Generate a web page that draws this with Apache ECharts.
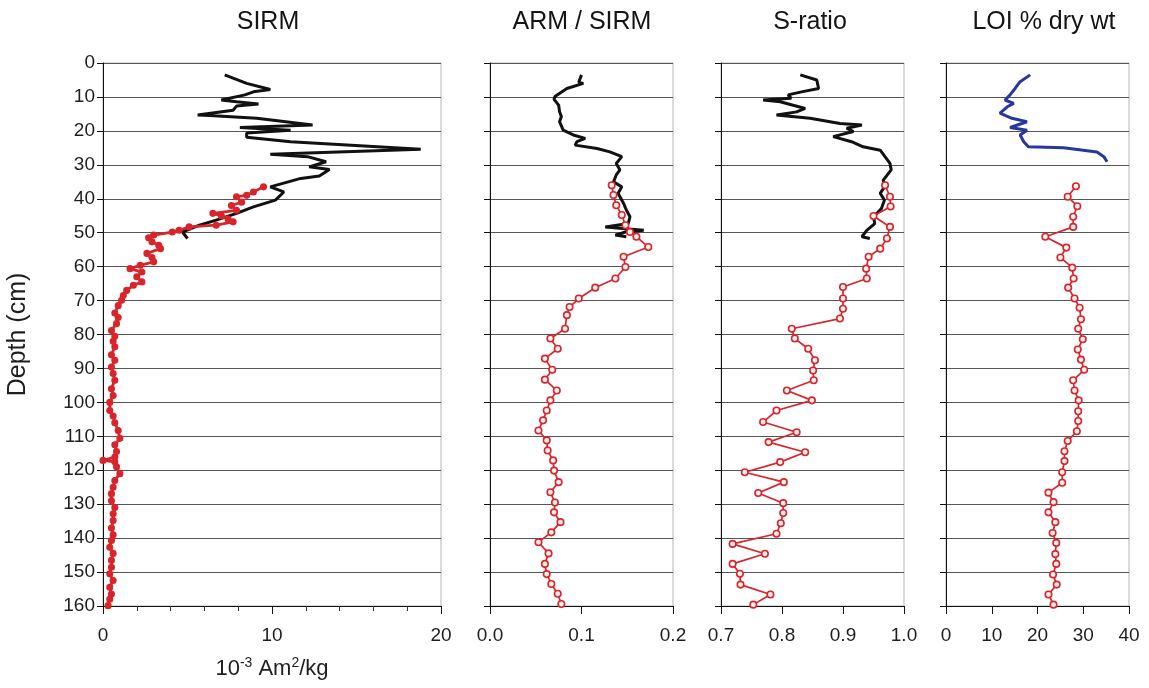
<!DOCTYPE html>
<html>
<head>
<meta charset="utf-8">
<script src="https://cdn.jsdelivr.net/npm/echarts@6/dist/echarts.min.js"></script>
<style>html,body{margin:0;padding:0;background:#fff}#c{width:1149px;height:688px}</style>
</head>
<body>
<div id="c"></div>
<script>
// ---------- DATA ----------
const panelTitles = ['SIRM', 'ARM / SIRM', 'S-ratio', 'LOI % dry wt'];
const depthTicks = [0, 10, 20, 30, 40, 50, 60, 70, 80, 90, 100, 110, 120, 130, 140, 150, 160];

// SIRM (10^-3 Am2/kg)
const sirmBlackDepth = [3.5, 6, 7.8, 8.5, 9.4, 10.9, 11.4, 12.1, 12.7, 13.9, 15.3, 15.5, 16.3, 18.3, 19, 19.8, 20.6, 21.9, 23.2, 25.4, 26.9, 27.6, 29.1, 30.6, 31.4, 33.3, 34, 36.5, 38, 40.4, 42.4, 44.3, 46.3, 47.8, 49.8, 51.7];
const sirmBlackValue = [7.2, 8.5, 9.9, 8.9, 8.4, 7.0, 7.9, 9.2, 7.9, 7.7, 5.6, 6.3, 9.1, 12.4, 8.1, 11.1, 8.5, 8.5, 11.1, 18.8, 9.9, 12.1, 13.2, 12.2, 13.4, 12.8, 11.7, 9.9, 10.7, 10.2, 8.9, 7.9, 6.7, 5.7, 4.7, 5.0];
const sirmRedDepth = [36.5, 38, 39, 39.4, 41, 42, 43.4, 44.3, 45, 46, 46.8, 47.8, 48.3, 49.3, 49.8, 50.7, 51.5, 52.7, 53.7, 54.7, 56.1, 57.3, 58.6, 59.6, 60.6, 61.6, 63, 64.5, 65.5, 67, 68.5, 69.9, 71.5, 73.7, 75, 76.8, 78.8, 80.5, 82, 83.6, 86, 87.6, 89.6, 91.5, 93.5, 96, 98, 100, 102.4, 104, 106, 108.3, 110.6, 112.5, 114.5, 116.1, 117.1, 117.5, 119, 121, 123, 125, 126.9, 129, 131, 132.8, 134.8, 137, 139, 140.7, 142.7, 144.5, 146.5, 148.6, 150.5, 152.5, 154.5, 156.5, 158, 159.9];
const sirmRedValue = [9.5, 8.9, 8.5, 7.9, 8.2, 7.6, 7.9, 6.5, 7.0, 7.4, 7.7, 6.7, 5.1, 4.5, 4.1, 3.0, 2.7, 2.9, 3.3, 3.4, 2.6, 2.9, 3.0, 2.2, 1.6, 2.3, 2.0, 2.3, 1.8, 1.4, 1.2, 1.1, 0.9, 0.7, 0.9, 0.8, 0.5, 0.7, 0.6, 0.7, 0.5, 0.7, 0.5, 0.6, 0.7, 0.5, 0.6, 0.4, 0.4, 0.6, 0.7, 0.9, 1.0, 0.7, 0.8, 0.7, 0.0, 0.7, 0.8, 1.0, 0.7, 0.6, 0.5, 0.5, 0.7, 0.6, 0.6, 0.5, 0.6, 0.5, 0.4, 0.6, 0.5, 0.5, 0.4, 0.6, 0.4, 0.5, 0.4, 0.3];

// ARM / SIRM
const armBlackDepth = [3.5, 5.7, 6, 7.5, 9.9, 10.7, 12.4, 14.3, 15.8, 17.3, 19.8, 21.2, 22.2, 23.2, 24.2, 25.2, 26.2, 27.6, 29.6, 31.5, 33, 35, 36.5, 38.4, 41.4, 43.3, 45.3, 47.3, 48.3, 49.3, 49.8, 50.7, 51.2];
const armBlackValue = [0.100, 0.097, 0.102, 0.084, 0.071, 0.070, 0.075, 0.076, 0.078, 0.076, 0.080, 0.091, 0.104, 0.095, 0.093, 0.117, 0.131, 0.144, 0.138, 0.142, 0.138, 0.135, 0.144, 0.140, 0.146, 0.149, 0.153, 0.151, 0.126, 0.168, 0.148, 0.137, 0.149];
const armRedDepth = [36, 38.9, 41.9, 44.8, 47.8, 49.8, 51.2, 54.2, 57.1, 60.1, 63.5, 66.2, 69.4, 71.9, 74.3, 78.3, 81.2, 84.2, 87.1, 90.4, 93.3, 96.5, 99.4, 102.4, 105.3, 108.3, 111.2, 114.2, 117.1, 120.1, 123.5, 126.5, 129.5, 132.4, 135.3, 138.3, 141.2, 144.5, 147.6, 150.6, 153.5, 156.4, 159.4];
const armRedValue = [0.133, 0.135, 0.138, 0.144, 0.148, 0.153, 0.160, 0.173, 0.146, 0.148, 0.137, 0.115, 0.097, 0.087, 0.084, 0.082, 0.066, 0.074, 0.060, 0.068, 0.060, 0.073, 0.066, 0.062, 0.058, 0.053, 0.062, 0.063, 0.069, 0.070, 0.075, 0.066, 0.071, 0.070, 0.077, 0.067, 0.053, 0.064, 0.060, 0.062, 0.067, 0.074, 0.078];

// S-ratio
const sBlackDepth = [3.5, 5, 7.5, 8.5, 9.4, 10.4, 10.9, 11.4, 13.4, 14.4, 15.3, 16.3, 17.8, 18.3, 19.2, 20.2, 21.7, 23.2, 24.7, 25.7, 29.6, 31.5, 34.5, 36.5, 38.4, 40.4, 42.9, 45.3, 47.3, 49.3, 51.2, 51.7];
const sBlackValue = [0.830, 0.857, 0.860, 0.832, 0.810, 0.815, 0.769, 0.797, 0.838, 0.824, 0.791, 0.846, 0.895, 0.931, 0.906, 0.917, 0.884, 0.914, 0.933, 0.961, 0.977, 0.979, 0.966, 0.968, 0.961, 0.968, 0.963, 0.950, 0.952, 0.939, 0.931, 0.944];
const sRedDepth = [36, 39.4, 42.3, 45.1, 48.3, 51.7, 54.7, 57.1, 60.6, 63.5, 66, 69.4, 72.4, 75.3, 78.3, 81.2, 84.2, 87.6, 90.6, 93.5, 96.5, 99.4, 102.4, 105.8, 108.8, 111.7, 114.7, 117.6, 120.6, 123.5, 126.7, 129.7, 132.6, 135.6, 138.7, 141.7, 144.6, 147.6, 150.5, 153.7, 156.6, 159.6];
const sRedValue = [0.969, 0.977, 0.978, 0.950, 0.977, 0.972, 0.961, 0.942, 0.938, 0.939, 0.900, 0.900, 0.900, 0.895, 0.816, 0.821, 0.843, 0.854, 0.851, 0.852, 0.808, 0.849, 0.791, 0.769, 0.824, 0.778, 0.838, 0.797, 0.739, 0.803, 0.761, 0.802, 0.802, 0.798, 0.791, 0.719, 0.772, 0.719, 0.731, 0.732, 0.781, 0.753];

// LOI % dry wt
const loiBlueDepth = [3.5, 5.5, 7.5, 9.4, 10.9, 11.9, 12.9, 14.8, 16.3, 17.3, 19, 19.8, 21.2, 23.2, 24.7, 25, 26.2, 27.6, 29.1];
const loiBlueValue = [18.4, 16.2, 15.1, 14.0, 12.9, 14.8, 13.4, 11.8, 14.4, 17.7, 14.0, 17.7, 16.2, 17.0, 18.0, 25.7, 33.0, 34.5, 35.2];
const loiRedDepth = [36.3, 39.4, 42.2, 45.3, 48.3, 51.2, 54.4, 57.3, 60.3, 63.5, 66.2, 69.4, 72.1, 75.5, 78.3, 81.4, 84.4, 87.4, 90.4, 93.5, 96.5, 99.4, 102.6, 105.5, 108.5, 111.4, 114.4, 117.3, 120.6, 123.7, 126.6, 129.4, 132.4, 135.3, 138.5, 141.4, 144.7, 147.6, 150.7, 153.7, 156.6, 159.6];
const loiRedValue = [28.4, 26.6, 28.7, 27.8, 27.8, 21.7, 26.3, 25.0, 27.6, 27.9, 26.7, 28.1, 29.2, 29.5, 28.9, 29.9, 28.8, 29.5, 30.2, 27.8, 28.1, 29.0, 28.9, 28.9, 28.6, 26.6, 25.9, 25.9, 25.4, 25.4, 22.4, 23.5, 22.4, 23.9, 23.3, 24.1, 23.9, 24.1, 23.4, 24.2, 22.4, 23.5];

// ---------- CHART ----------
const FONT = '"Liberation Sans", Arial, sans-serif';
const RED = '#d8252b';
const zip = (vals, deps) => vals.map((v, i) => [v, deps[i]]);

const grids = [
  { left: 103, right: 1149 - 441, top: 63, bottom: 82 },
  { left: 490, right: 1149 - 673, top: 63, bottom: 82 },
  { left: 721, right: 1149 - 904, top: 63, bottom: 82 },
  { left: 946, right: 1149 - 1129, top: 63, bottom: 82 }
].map(g => Object.assign(g, { show: true, borderColor: '#b5b5b5', borderWidth: 1, containLabel: false }));

const xCfg = [
  { min: 0, max: 20, interval: 10, fmt: v => String(v), minor: true },
  { min: 0, max: 0.2, interval: 0.1, fmt: v => v.toFixed(1) },
  { min: 0.7, max: 1.0, interval: 0.1, fmt: v => v.toFixed(1) },
  { min: 0, max: 40, interval: 10, fmt: v => String(v) }
];

const xAxes = xCfg.map((c, i) => ({
  type: 'value', gridIndex: i, min: c.min, max: c.max, interval: c.interval,
  axisLine: { show: true, onZero: false, lineStyle: { color: '#111', width: 1 } },
  axisTick: { show: true, length: 8, lineStyle: { color: '#111' } },
  minorTick: c.minor ? { show: true, splitNumber: 5, length: 5, lineStyle: { color: '#333' } } : { show: false },
  splitLine: { show: false },
  axisLabel: { color: '#1e1e1e', fontSize: 19, fontFamily: FONT, margin: 20, formatter: c.fmt },
  name: i === 0 ? '10{sup|-3} Am{sup|2}/kg' : '',
  nameLocation: 'middle', nameGap: 50,
  nameTextStyle: {
    color: '#1e1e1e', fontSize: 22, fontFamily: FONT,
    rich: { sup: { fontSize: 14, fontFamily: FONT, color: '#1e1e1e', verticalAlign: 'bottom', padding: [0, 0, 12, 0] } }
  }
}));

const yAxes = [0, 1, 2, 3].map(i => ({
  type: 'value', gridIndex: i, inverse: true, min: depthTicks[0], max: depthTicks[depthTicks.length - 1], interval: 10,
  axisLine: { show: true, lineStyle: { color: '#111', width: 1 } },
  axisTick: { show: true, length: 6, lineStyle: { color: '#111' } },
  splitLine: { show: true, lineStyle: { color: '#555', width: 1 } },
  axisLabel: { show: i === 0, color: '#1e1e1e', fontSize: 19, fontFamily: FONT, margin: 8 },
  name: i === 0 ? 'Depth (cm)' : '',
  nameLocation: 'middle', nameRotate: 90, nameGap: 72,
  nameTextStyle: { color: '#1e1e1e', fontSize: 25, fontFamily: FONT }
}));

function blackLine(i, data, color) {
  return {
    type: 'line', xAxisIndex: i, yAxisIndex: i, data: data, showSymbol: false, symbol: 'none',
    lineStyle: { color: color || '#111', width: 3 }, animation: false, z: 3
  };
}
function redLine(i, data, opts) {
  opts = opts || {};
  return {
    type: 'line', xAxisIndex: i, yAxisIndex: i, data: data,
    symbol: 'circle', symbolSize: opts.size || 6.5, showAllSymbol: true,
    lineStyle: { color: RED, width: opts.width || 1.7 },
    itemStyle: { color: opts.fill || '#fff0f0', borderColor: RED, borderWidth: 1.6 },
    animation: false, z: 4
  };
}

const series = [
  blackLine(0, zip(sirmBlackValue, sirmBlackDepth)),
  redLine(0, zip(sirmRedValue, sirmRedDepth), { size: 5.5, width: 2.8, fill: RED }),
  redLine(1, zip(armRedValue, armRedDepth)),
  blackLine(1, zip(armBlackValue, armBlackDepth)),
  blackLine(2, zip(sBlackValue, sBlackDepth)),
  redLine(2, zip(sRedValue, sRedDepth)),
  blackLine(3, zip(loiBlueValue, loiBlueDepth), '#27389c'),
  redLine(3, zip(loiRedValue, loiRedDepth))
];

const titleX = [268, 582, 810, 1044];
const graphic = panelTitles.map((t, i) => ({
  type: 'text', x: titleX[i], y: 22,
  style: { text: t, font: '25px ' + FONT, fill: '#141414', align: 'center', verticalAlign: 'middle', textAlign: 'center', textVerticalAlign: 'middle' }
}));

const chart = echarts.init(document.getElementById('c'), null, { renderer: 'canvas' });
chart.setOption({
  backgroundColor: '#fff',
  animation: false,
  grid: grids,
  xAxis: xAxes,
  yAxis: yAxes,
  series: series,
  graphic: graphic
});
</script>
</body>
</html>
